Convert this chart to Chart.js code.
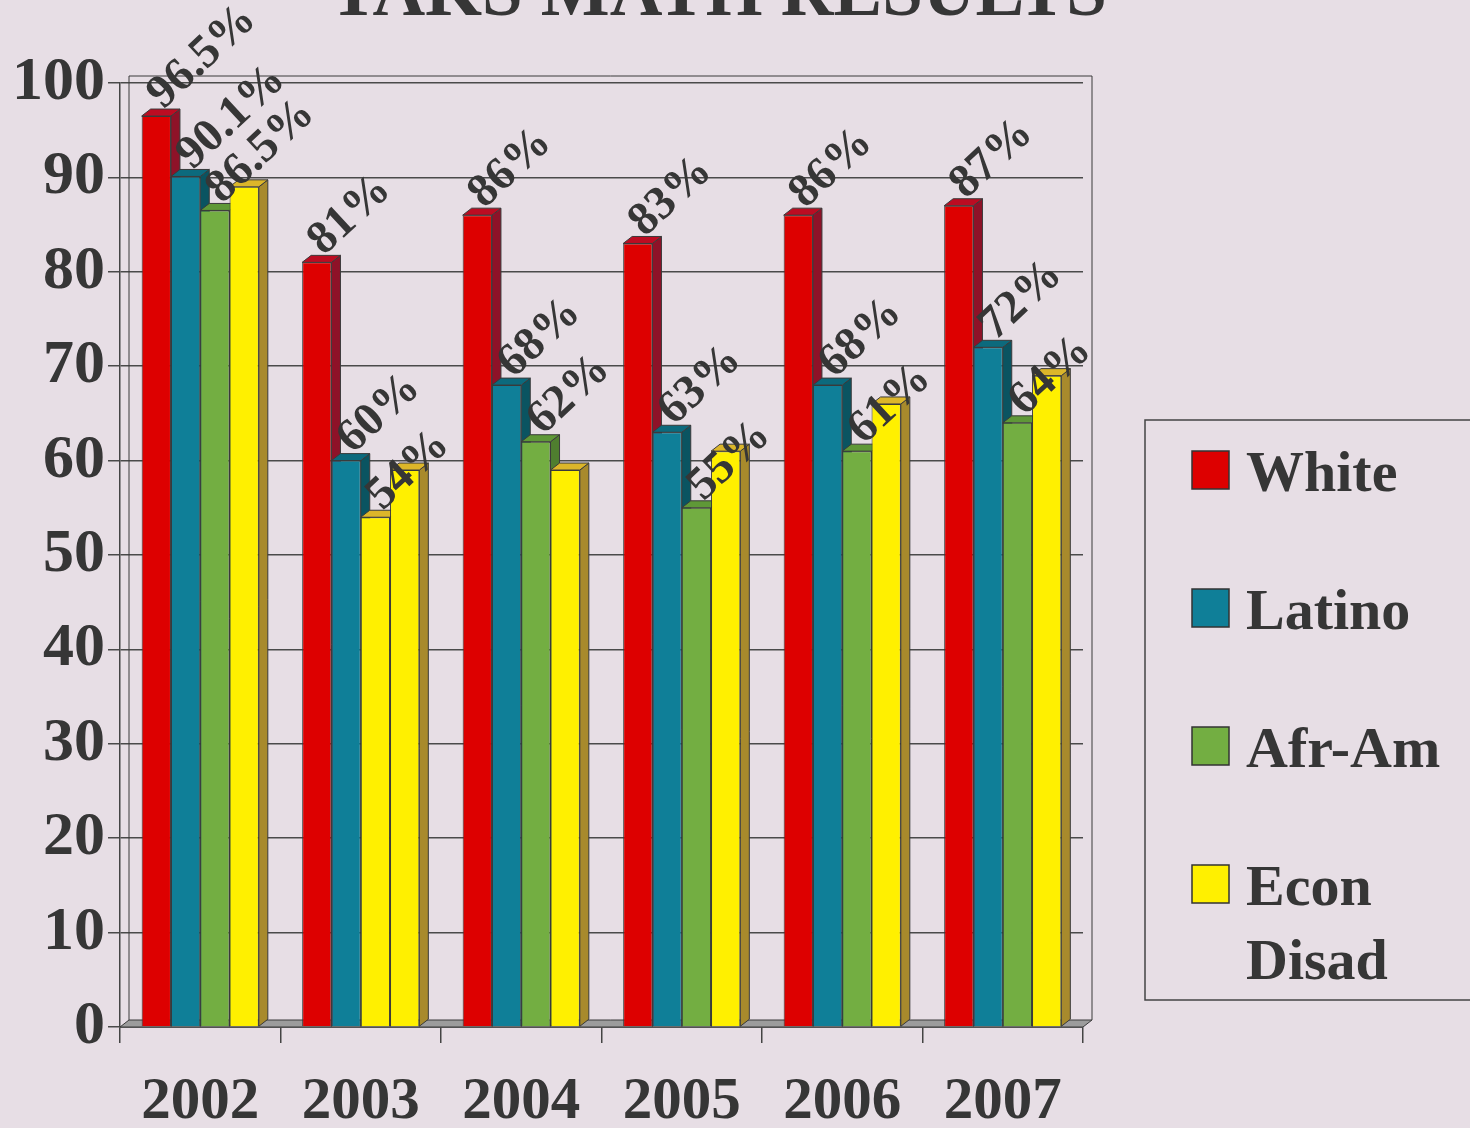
<!DOCTYPE html>
<html>
<head>
<meta charset="utf-8">
<title>TAKS Math Results</title>
<script src="https://cdn.jsdelivr.net/npm/chart.js@4.4.1/dist/chart.umd.min.js"></script>
<style>
  html, body { margin: 0; padding: 0; background: #e7dee5; overflow: hidden; }
  #wrap { width: 1470px; height: 1128px; position: relative; }
</style>
</head>
<body>
<div id="wrap"><canvas id="taksChart"></canvas></div>
<script>
// data
var chartTitle = 'TAKS MATH RESULTS';
var years = ['2002', '2003', '2004', '2005', '2006', '2007'];
var white = [96.5, 81, 86, 83, 86, 87];
var latino = [90.1, 60, 68, 63, 68, 72];
var afrAm = [86.5, 54, 62, 55, 61, 64];
var econDisad = [89, 59, 59, 61, 66, 69];
var yTicks = [0, 10, 20, 30, 40, 50, 60, 70, 80, 90, 100];

var serif = '"Liberation Serif", "Times New Roman", "DejaVu Serif", serif';
var textColor = '#363636';

// front / side / top colours of the 3d bars
var palette = {
    red:    { front: '#dd0000', side: '#8e1228', top: '#bc0c22' },
    teal:   { front: '#0f7f98', side: '#0a5461', top: '#0c6a7d' },
    green:  { front: '#73ae42', side: '#4f7e2f', top: '#5f9837' },
    yellow: { front: '#fff000', side: '#a88a2c', top: '#dcb62a' }
};

function shadeOf(color) {
    for (var k in palette) {
        if (palette[k].front === color) return palette[k];
    }
    return palette.red;
}

// the 2003 Afr-Am bar is drawn yellow in the original
var afrAmFill = years.map(function(y) {
    return y === '2003' ? palette.yellow.front : palette.green.front;
});

var depthX = 9, depthY = 7;

// side and top faces of each bar + floor
var bar3d = {
    id: 'bar3d',
    beforeDatasetsDraw: function(chart) {
        var ctx = chart.ctx, a = chart.chartArea;
        ctx.save();
        ctx.lineWidth = 1;
        ctx.strokeStyle = '#3a3a3a';

        // back wall edges
        ctx.beginPath();
        ctx.moveTo(a.left + depthX, a.bottom - depthY);
        ctx.lineTo(a.left + depthX, a.top - depthY);
        ctx.lineTo(a.right + depthX, a.top - depthY);
        ctx.lineTo(a.right + depthX, a.bottom - depthY);
        ctx.stroke();

        // floor
        ctx.beginPath();
        ctx.moveTo(a.left, a.bottom);
        ctx.lineTo(a.right, a.bottom);
        ctx.lineTo(a.right + depthX, a.bottom - depthY);
        ctx.lineTo(a.left + depthX, a.bottom - depthY);
        ctx.closePath();
        ctx.fillStyle = '#9c9c9c';
        ctx.fill();
        ctx.stroke();

        chart.data.datasets.forEach(function(ds, di) {
            var meta = chart.getDatasetMeta(di);
            meta.data.forEach(function(bar, i) {
                var p = bar.getProps(['x', 'y', 'base', 'width'], true);
                var l = p.x - p.width / 2, r = p.x + p.width / 2;
                var fill = Array.isArray(ds.backgroundColor) ? ds.backgroundColor[i] : ds.backgroundColor;
                var shade = shadeOf(fill);

                ctx.beginPath();
                ctx.moveTo(r, p.y);
                ctx.lineTo(r + depthX, p.y - depthY);
                ctx.lineTo(r + depthX, p.base - depthY);
                ctx.lineTo(r, p.base);
                ctx.closePath();
                ctx.fillStyle = shade.side;
                ctx.fill();
                ctx.stroke();

                ctx.beginPath();
                ctx.moveTo(l, p.y);
                ctx.lineTo(l + depthX, p.y - depthY);
                ctx.lineTo(r + depthX, p.y - depthY);
                ctx.lineTo(r, p.y);
                ctx.closePath();
                ctx.fillStyle = shade.top;
                ctx.fill();
                ctx.stroke();
            });
        });
        ctx.restore();
    }
};

// rotated percent labels
var valueLabels = {
    id: 'valueLabels',
    afterDatasetsDraw: function(chart) {
        var ctx = chart.ctx;
        ctx.save();
        ctx.font = 'bold 47px ' + serif;
        ctx.fillStyle = textColor;
        ctx.textAlign = 'left';
        ctx.textBaseline = 'alphabetic';
        chart.data.datasets.forEach(function(ds, di) {
            if (!ds.showValues) return;
            chart.getDatasetMeta(di).data.forEach(function(bar, i) {
                var p = bar.getProps(['x', 'y'], true);
                ctx.save();
                ctx.translate(p.x + 7, p.y - 6);
                ctx.rotate(-43 * Math.PI / 180);
                ctx.fillText(ds.data[i] + '%', 0, 0);
                ctx.restore();
            });
        });
        ctx.restore();
    }
};

// title, cut at the top edge like the original
var topTitle = {
    id: 'topTitle',
    afterDraw: function(chart) {
        var ctx = chart.ctx;
        ctx.save();
        ctx.font = 'bold 73px ' + serif;
        ctx.fillStyle = textColor;
        ctx.textAlign = 'center';
        ctx.textBaseline = 'alphabetic';
        ctx.fillText(chartTitle, 718, 15);
        ctx.restore();
    }
};

// boxed legend on the right
var sideLegend = {
    id: 'sideLegend',
    afterDraw: function(chart) {
        var ctx = chart.ctx;
        var bx = chart.chartArea.right + 62, by = 420;
        ctx.save();
        ctx.strokeStyle = '#444';
        ctx.lineWidth = 1.5;
        ctx.strokeRect(bx, by, chart.width - bx + 20, 580);

        ctx.font = 'bold 58px ' + serif;
        ctx.textAlign = 'left';
        ctx.textBaseline = 'alphabetic';
        var maxW = chart.width - (bx + 103) - 10;
        chart.data.datasets.forEach(function(ds, di) {
            var sqTop = by + 31 + di * 138;
            var fill = Array.isArray(ds.backgroundColor) ? palette.green.front : ds.backgroundColor;
            ctx.fillStyle = fill;
            ctx.fillRect(bx + 47, sqTop, 37, 38);
            ctx.strokeStyle = '#333';
            ctx.lineWidth = 1.5;
            ctx.strokeRect(bx + 47, sqTop, 37, 38);

            // wrap long names
            var words = ds.label.split(' ');
            var lines = [], cur = '';
            words.forEach(function(w) {
                var t = cur ? cur + ' ' + w : w;
                if (cur && ctx.measureText(t).width > maxW) {
                    lines.push(cur);
                    cur = w;
                } else {
                    cur = t;
                }
            });
            lines.push(cur);
            ctx.fillStyle = textColor;
            lines.forEach(function(line, li) {
                ctx.fillText(line, bx + 101, sqTop + 40 + li * 74);
            });
        });
        ctx.restore();
    }
};

var ctx = document.getElementById('taksChart').getContext('2d');
var myChart = new Chart(ctx, {
    type: 'bar',
    data: {
        labels: years,
        datasets: [
            {
                label: 'White',
                data: white,
                backgroundColor: palette.red.front,
                showValues: true
            },
            {
                label: 'Latino',
                data: latino,
                backgroundColor: palette.teal.front,
                showValues: true
            },
            {
                label: 'Afr-Am',
                data: afrAm,
                backgroundColor: afrAmFill,
                showValues: true
            },
            {
                label: 'Econ Disad',
                data: econDisad,
                backgroundColor: palette.yellow.front,
                showValues: false
            }
        ]
    },
    options: {
        responsive: true,
        maintainAspectRatio: false,
        animation: false,
        datasets: {
            bar: {
                categoryPercentage: 0.73,
                barPercentage: 1.0,
                borderColor: '#3a3a3a',
                borderWidth: 1
            }
        },
        layout: {
            padding: { top: 83, right: 387, bottom: 0, left: 0 }
        },
        scales: {
            x: {
                offset: true,
                afterFit: function(scale) { scale.height = 101; },
                grid: {
                    display: true,
                    offset: true,
                    drawOnChartArea: false,
                    tickLength: 16,
                    color: '#444',
                    lineWidth: 1.5
                },
                border: { display: true, color: '#444', width: 1.5 },
                ticks: {
                    padding: 24,
                    color: textColor,
                    font: { family: serif, size: 59, weight: 'bold' }
                }
            },
            y: {
                min: 0,
                max: 100,
                afterFit: function(scale) { scale.width = 120; },
                afterBuildTicks: function(scale) {
                    scale.ticks = yTicks.map(function(v) { return { value: v }; });
                },
                grid: {
                    color: '#4a4a4a',
                    lineWidth: 1.5,
                    tickLength: 12
                },
                border: { display: true, color: '#444', width: 1.5 },
                ticks: {
                    autoSkip: false,
                    padding: 3,
                    color: textColor,
                    font: { family: serif, size: 62, weight: 'bold' }
                }
            }
        },
        plugins: {
            legend: { display: false },
            title: { display: false },
            tooltip: { enabled: false }
        }
    },
    plugins: [bar3d, valueLabels, topTitle, sideLegend]
});
</script>
</body>
</html>
